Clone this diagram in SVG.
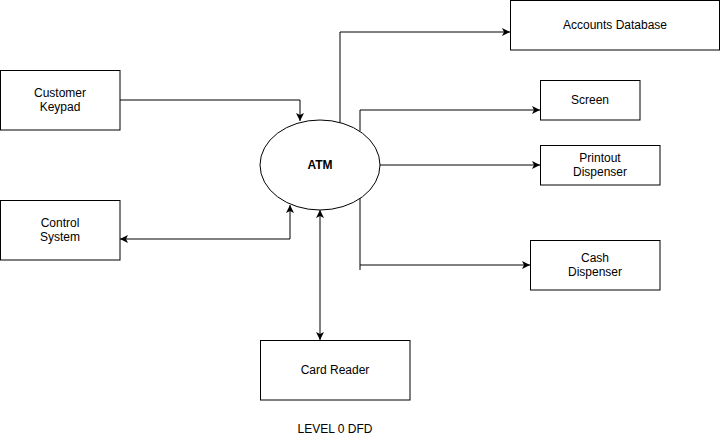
<svg xmlns="http://www.w3.org/2000/svg" width="721" height="440" viewBox="0 0 721 440">
<style>
.box{fill:#fff;stroke:#000;stroke-width:1}
.t{font-family:"Liberation Sans",Arial,sans-serif;font-size:12px;fill:#000;text-anchor:middle}
.b{font-weight:bold}
.c{fill:none;stroke:#000;stroke-width:1}
</style>
<defs>
<marker id="ah" viewBox="0 0 10 10" refX="10" refY="5" markerWidth="8" markerHeight="8" markerUnits="userSpaceOnUse" orient="auto-start-reverse">
<path d="M0,0 L10,5 L0,10 L2.5,5 Z" fill="#000"/>
</marker>
</defs>
<rect width="721" height="440" fill="#fff"/>
<g id="connectors">
<path class="c" d="M120,100 H300 V121" marker-end="url(#ah)"/>
<path class="c" d="M340,123 V32 H510" marker-end="url(#ah)"/>
<path class="c" d="M360,131 V110 H540" marker-end="url(#ah)"/>
<path class="c" d="M380,165 H540" marker-end="url(#ah)"/>
<path class="c" d="M360,198 V270"/>
<path class="c" d="M360,265 H530" marker-end="url(#ah)"/>
<path class="c" d="M120,239 H290 V205" marker-start="url(#ah)" marker-end="url(#ah)"/>
<path class="c" d="M320,210 V340" marker-start="url(#ah)" marker-end="url(#ah)"/>
</g>
<g id="accounts-database"><rect class="box" x="510.5" y="0.5" width="209" height="49.5"/><text class="t" x="615" y="29">Accounts Database</text></g>
<g id="screen"><rect class="box" x="540.5" y="80.5" width="99.5" height="39.5"/><text class="t" x="590" y="104">Screen</text></g>
<g id="printout-dispenser"><rect class="box" x="540.5" y="145.5" width="119.5" height="39.5"/><text class="t" x="600" y="162">Printout</text><text class="t" x="600" y="176">Dispenser</text></g>
<g id="cash-dispenser"><rect class="box" x="530.5" y="240.5" width="129.5" height="49.5"/><text class="t" x="595" y="262">Cash</text><text class="t" x="595" y="276">Dispenser</text></g>
<g id="customer-keypad"><rect class="box" x="0.5" y="70.5" width="119.5" height="59.5"/><text class="t" x="60" y="97">Customer</text><text class="t" x="60" y="111">Keypad</text></g>
<g id="control-system"><rect class="box" x="0.5" y="200.5" width="119.5" height="59.5"/><text class="t" x="60" y="227">Control</text><text class="t" x="60" y="241">System</text></g>
<g id="card-reader"><rect class="box" x="260.5" y="340.5" width="149.5" height="59.5"/><text class="t" x="335" y="374">Card Reader</text></g>
<g id="atm"><ellipse class="box" cx="320" cy="165" rx="60" ry="45"/><text class="t b" x="320" y="169">ATM</text></g>
<g id="caption"><text class="t" x="335" y="433">LEVEL 0 DFD</text></g>
</svg>
